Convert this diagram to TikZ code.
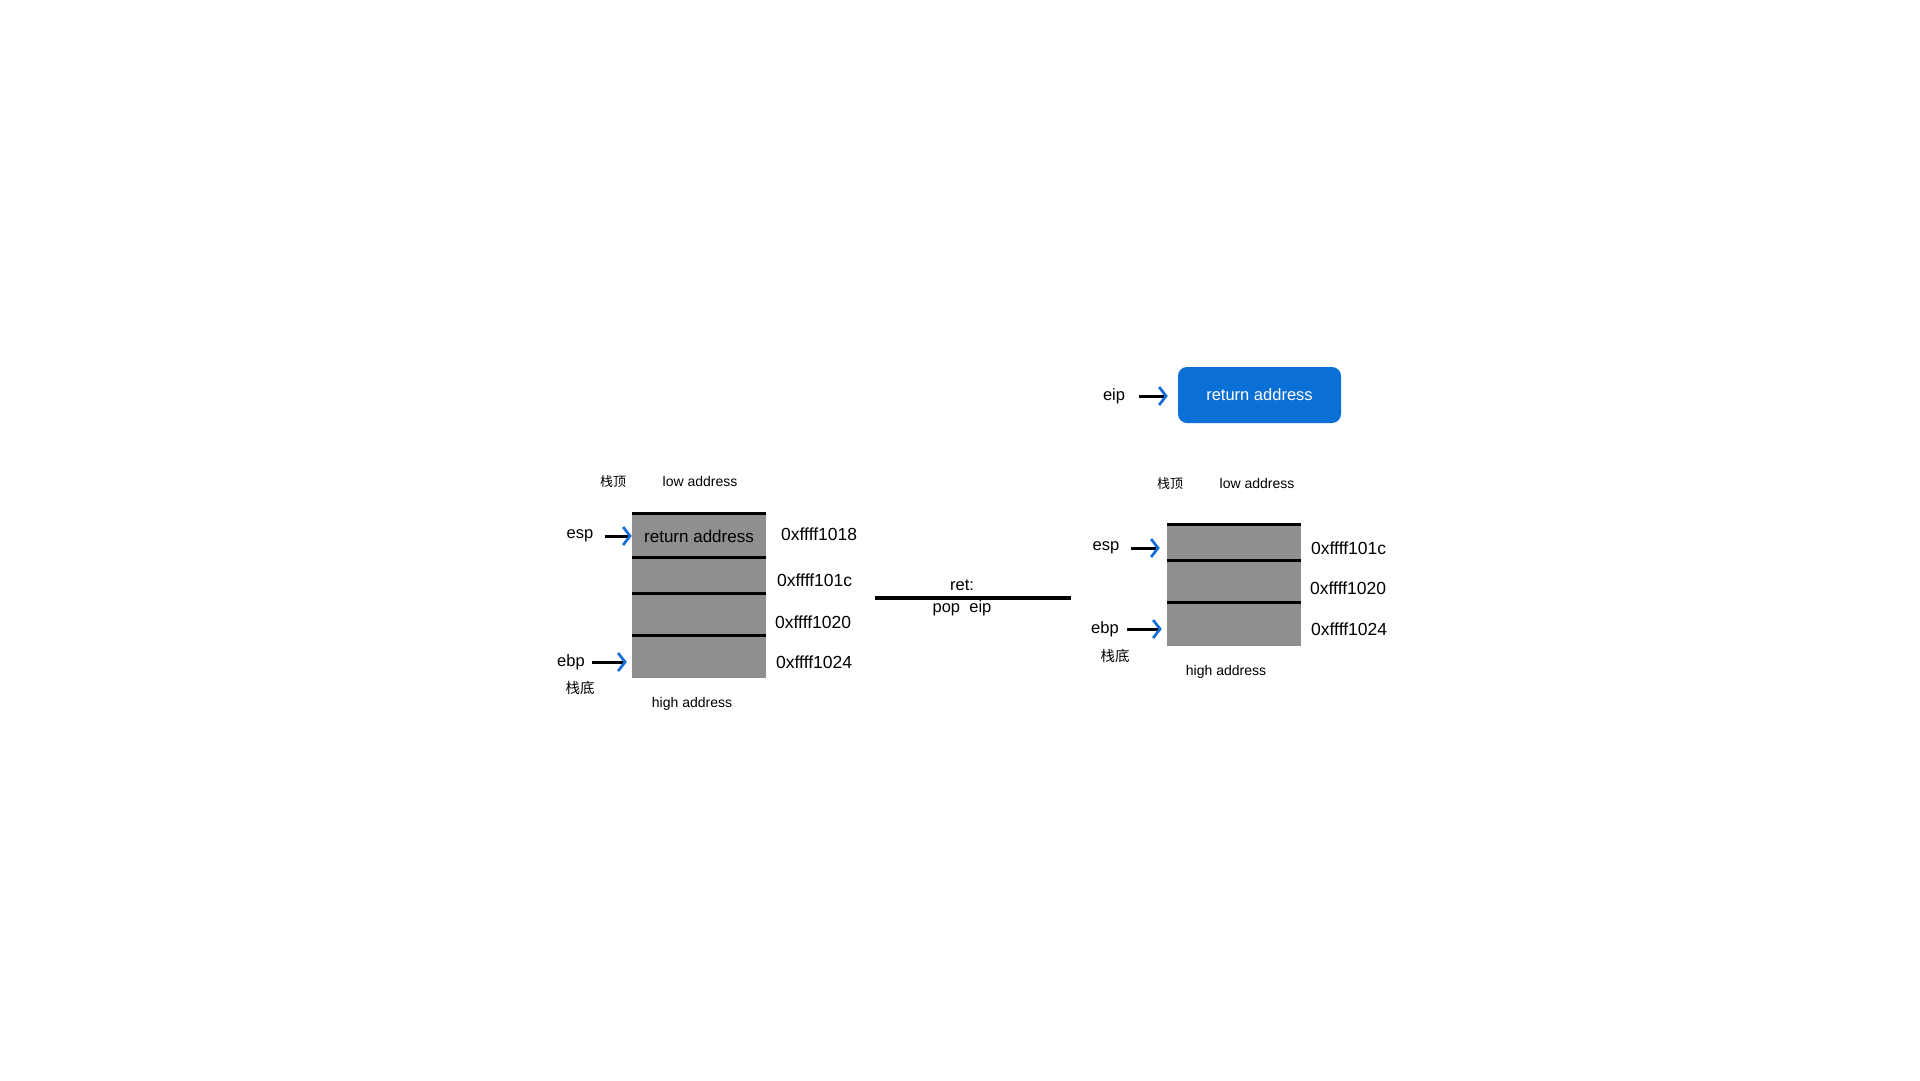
\documentclass[tikz,border=0pt]{standalone}
\usepackage{fontspec}
\setmainfont{Liberation Sans}
\newfontfamily\cjk{Noto Sans CJK SC}
\usetikzlibrary{arrows.meta}
\definecolor{tipblue}{RGB}{20,110,215}
\definecolor{boxblue}{RGB}{10,112,214}
\definecolor{cellgray}{RGB}{143,143,143}
\tikzset{
 cell/.style={fill=cellgray, inner sep=0pt, minimum width=134pt, minimum height=#1, font=\fontsize{17}{20}\selectfont},
 sepline/.style={line width=3pt},
 ptr/.style={line width=3pt, -{Straight Barb[color=tipblue,length=7pt,width=18pt,line width=2.7pt]}},
 lbl/.style={inner sep=0pt, font=\fontsize{16.5}{20}\selectfont},
 addr/.style={inner sep=0pt, anchor=west, font=\fontsize{17.5}{20}\selectfont},
 small/.style={inner sep=0pt, font=\fontsize{14}{17}\selectfont},
 cntop/.style={inner sep=0pt, font=\cjk\fontsize{13}{15}\selectfont},
 cnbot/.style={inner sep=0pt, font=\cjk\fontsize{14.5}{17}\selectfont},
}
\begin{document}
\begin{tikzpicture}[x=1pt,y=-1pt]
\useasboundingbox (0,0) rectangle (1920,1080);
% ---------- left stack ----------
\node[cntop] (top1) at (613,482) {栈顶};
\node[small] (low1) at (700,481) {low address};
\node[cell=44pt] (c1) at (699,536) {return address};
\node[cell=36pt] (c2) at (699,576) {};
\node[cell=42pt] (c3) at (699,615) {};
\node[cell=42pt] (c4) at (699,657) {};
\draw[sepline] (c1.north west) -- (c1.north east);
\draw[sepline] (c2.north west) -- (c2.north east);
\draw[sepline] (c3.north west) -- (c3.north east);
\draw[sepline] (c4.north west) -- (c4.north east);
\node[addr] (a1) at (781,534) {0xffff1018};
\node[addr] (a2) at (777,580) {0xffff101c};
\node[addr] (a3) at (775,622) {0xffff1020};
\node[addr] (a4) at (776,662) {0xffff1024};
\node[lbl] (esp1) at (580,536) {esp};
\node[lbl] (ebp1) at (571,662) {ebp};
\node[cnbot] (bot1) at (580,688) {栈底};
\node[small] (high1) at (692,704) {high address};
\draw[ptr, shorten <=11pt] (esp1.east) -- (esp1.east -| c1.west);
\draw[ptr, shorten <=7pt, shorten >=5pt] (ebp1.east) -- (ebp1.east -| c4.west);
% ---------- middle ----------
\coordinate (m1) at (875,598);
\coordinate (m2) at (1071,598);
\draw[line width=4pt] (m1) -- (m2);
\node[lbl] (ret) at (962,585) {ret:};
\node[lbl] (pop) at (962,608) {pop~~eip};
% ---------- eip ----------
\node[lbl] (eip) at (1114,396) {eip};
\node[fill=boxblue, rounded corners=9pt, minimum width=163pt, minimum height=56pt, inner sep=0pt,
      text=white, font=\fontsize{16.5}{20}\selectfont] (ra) at (1259.5,395) {return address};
\draw[ptr, shorten <=14pt, shorten >=10pt] (eip.east) -- (eip.east -| ra.west);
% ---------- right stack ----------
\node[cntop] (top2) at (1170,484) {栈顶};
\node[small] (low2) at (1257,483) {low address};
\node[cell=36pt] (r1) at (1234,543) {};
\node[cell=42pt] (r2) at (1234,582) {};
\node[cell=43pt] (r3) at (1234,624.5) {};
\draw[sepline] (r1.north west) -- (r1.north east);
\draw[sepline] (r2.north west) -- (r2.north east);
\draw[sepline] (r3.north west) -- (r3.north east);
\node[addr] (b1) at (1311,548) {0xffff101c};
\node[addr] (b2) at (1310,588) {0xffff1020};
\node[addr] (b3) at (1311,629) {0xffff1024};
\node[lbl] (esp2) at (1106,548) {esp};
\node[lbl] (ebp2) at (1105,629) {ebp};
\node[cnbot] (bot2) at (1115,656) {栈底};
\node[small] (high2) at (1226,672) {high address};
\draw[ptr, shorten <=11.5pt, shorten >=7pt] (esp2.east) -- (esp2.east -| r1.west);
\draw[ptr, shorten <=8pt, shorten >=5pt] (ebp2.east) -- (ebp2.east -| r3.west);
\end{tikzpicture}
\end{document}
